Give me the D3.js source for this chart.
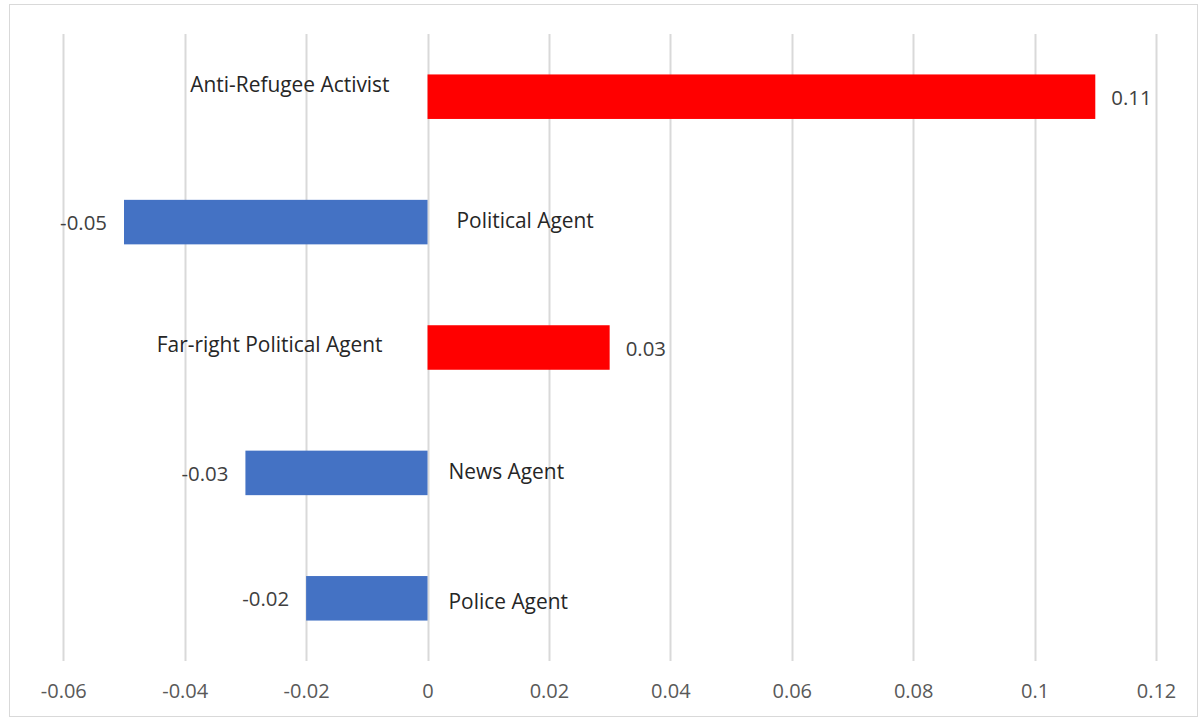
<!DOCTYPE html>
<html>
<head>
<meta charset="utf-8">
<script src="https://cdn.jsdelivr.net/npm/d3@7/dist/d3.min.js"></script>
<style>
  html, body { margin: 0; padding: 0; background: #fff; }
  svg { display: block; font-family: "Open Sans", "Noto Sans", sans-serif; }
</style>
</head>
<body>
<svg id="chart" width="1203" height="722"></svg>
<script>
// Agent categories, top to bottom
const categories = [
  "Anti-Refugee Activist",
  "Political Agent",
  "Far-right Political Agent",
  "News Agent",
  "Police Agent"
];
// Effect value per agent
const values = [0.11, -0.05, 0.03, -0.03, -0.02];
// Value-axis tick labels
const tickValues = [-0.06, -0.04, -0.02, 0, 0.02, 0.04, 0.06, 0.08, 0.1, 0.12];

const W = 1203, H = 722;
const plot = { left: 63.3, right: 1156, top: 34, bottom: 661 };

const svg = d3.select("#chart");

// chart frame
svg.append("rect")
  .attr("x", 9.5).attr("y", 4.5)
  .attr("width", 1188).attr("height", 712)
  .attr("fill", "#fff")
  .attr("stroke", "#d9d9d9")
  .attr("stroke-width", 1);

const x = d3.scaleLinear().domain([-0.06, 0.12]).range([plot.left, plot.right]);
const y = d3.scaleBand()
  .domain(categories)
  .range([plot.top, plot.bottom])
  .paddingInner(0.645)
  .paddingOuter(0.3225);

// vertical gridlines
svg.append("g")
  .selectAll("line")
  .data(tickValues)
  .join("line")
  .attr("x1", d => Math.round(x(d)) + 0.5)
  .attr("x2", d => Math.round(x(d)) + 0.5)
  .attr("y1", plot.top)
  .attr("y2", plot.bottom)
  .attr("stroke", "#d9d9d9")
  .attr("stroke-width", 2);

// tick labels along the bottom
const fmt = d => d === 0 ? "0" : String(+d.toFixed(2));
const xAxis = d3.axisBottom(x).tickValues(tickValues).tickFormat(fmt).tickSize(0).tickPadding(0);
const axisG = svg.append("g")
  .attr("transform", `translate(0, ${plot.bottom})`)
  .call(xAxis);
axisG.select(".domain").remove();
axisG.selectAll("text")
  .attr("y", 37)
  .attr("dy", 0)
  .attr("fill", "#595959")
  .attr("font-size", 20)
  .attr("font-family", "\"Open Sans\", \"Noto Sans\", sans-serif");

const rows = categories.map((c, i) => ({ cat: c, v: values[i] }));

// bars
svg.append("g")
  .selectAll("rect")
  .data(rows)
  .join("rect")
  .attr("x", d => x(Math.min(0, d.v)))
  .attr("width", d => Math.abs(x(d.v) - x(0)))
  .attr("y", d => y(d.cat))
  .attr("height", y.bandwidth())
  .attr("fill", d => d.v >= 0 ? "#ff0000" : "#4472c4");

// value labels beyond each bar end
svg.append("g")
  .selectAll("text")
  .data(rows)
  .join("text")
  .attr("x", d => x(d.v) + (d.v >= 0 ? 16 : -17))
  .attr("y", d => y(d.cat) + y.bandwidth() / 2 + 1)
  .attr("dy", "0.35em")
  .attr("text-anchor", d => d.v >= 0 ? "start" : "end")
  .attr("font-size", 20.4)
  .attr("fill", "#404040")
  .text(d => fmt(d.v));

// category labels on the opposite side of the zero line
const labelShift = {
  "Anti-Refugee Activist": [-38, -12],
  "Political Agent": [29, -1],
  "Far-right Political Agent": [-45, -3],
  "News Agent": [21, -1],
  "Police Agent": [21, 3]
};
svg.append("g")
  .selectAll("text")
  .data(rows)
  .join("text")
  .attr("x", d => x(0) + labelShift[d.cat][0])
  .attr("y", d => y(d.cat) + y.bandwidth() / 2 + labelShift[d.cat][1])
  .attr("dy", "0.35em")
  .attr("text-anchor", d => d.v >= 0 ? "end" : "start")
  .attr("font-size", 20.9)
  .attr("fill", "#262626")
  .text(d => d.cat);
</script>
</body>
</html>
